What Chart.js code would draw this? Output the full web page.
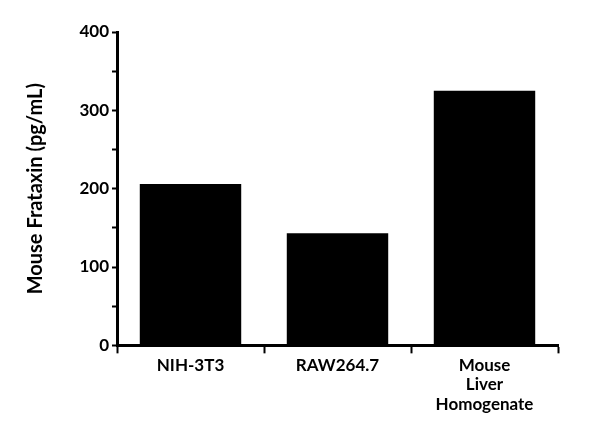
<!DOCTYPE html>
<html><head><script src="https://cdn.jsdelivr.net/npm/chart.js"></script>
<style>body{margin:0;background:#fff}#w{width:600px;height:446px}</style></head>
<body><div id="w"><canvas id="c"></canvas></div>
<script>
const categories=[["NIH-3T3"],["RAW264.7"],["Mouse","Liver","Homogenate"]];
const values=[206,143,325];
const yTicks=[0,100,200,300,400];
const F="Lato";
new Chart(document.getElementById('c'),{type:'bar',
data:{labels:categories,datasets:[{data:values,backgroundColor:'#000',borderColor:'#000',barPercentage:0.69,categoryPercentage:1}]},
options:{responsive:true,maintainAspectRatio:false,animation:false,
layout:{padding:{top:32,right:42,bottom:30,left:20}},
plugins:{legend:{display:false},tooltip:{enabled:false}},
scales:{
x:{grid:{display:true,drawOnChartArea:false,drawTicks:true,tickLength:8,tickColor:'#000',tickWidth:2},border:{color:'#000',width:3},
ticks:{color:'#000',font:{family:F,weight:'bold',size:17,lineHeight:1.15},padding:2}},
y:{min:0,max:400,afterFit:s=>{s.width=97},
afterBuildTicks:s=>{s.ticks=[0,50,100,150,200,250,300,350,400].map(v=>({value:v}))},
grid:{display:true,drawOnChartArea:false,drawTicks:true,tickLength:c=>c.tick&&c.tick.value%100===0?8:5,tickColor:'#000',tickWidth:2},border:{color:'#000',width:3},
ticks:{color:'#000',font:{family:F,weight:'bold',size:17},callback:v=>yTicks.includes(v)?v:''},
title:{display:true,text:'Mouse Frataxin (pg/mL)',color:'#000',font:{family:F,weight:'bold',size:20}}}}}});
</script></body></html>
